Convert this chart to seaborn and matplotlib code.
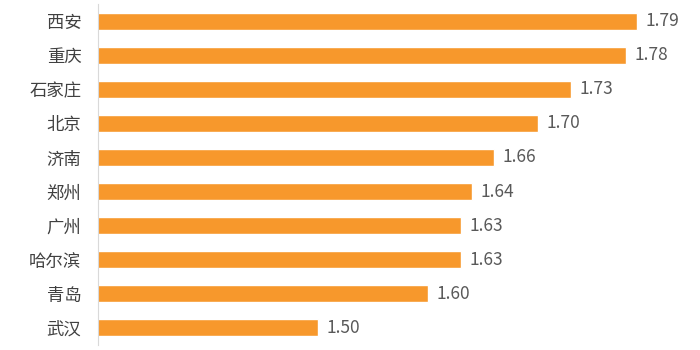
import matplotlib
matplotlib.use("Agg")
import matplotlib.pyplot as plt
import seaborn as sns
import pandas as pd

cities = ["西安", "重庆", "石家庄", "北京", "济南", "郑州", "广州", "哈尔滨", "青岛", "武汉"]
values = [1.79, 1.78, 1.73, 1.70, 1.66, 1.64, 1.63, 1.63, 1.60, 1.50]

sns.set_theme(style="white")
plt.rcParams['font.family'] = ['Noto Sans CJK SC', 'DejaVu Sans']

df = pd.DataFrame({"city": cities, "value": values})

fig = plt.figure(figsize=(7, 3.5), dpi=100)
ax = fig.add_axes([0.14, 0.0143, 0.83, 0.974])
sns.barplot(data=df, x="value", y="city", orient="h", color="#F7982C",
            saturation=1, width=0.5, ax=ax)

ax.set_xlim(1.30, 1.30 + 0.83 * 700 / 1100)
ax.set_ylim(9.5, -0.5)
for c in ax.containers:
    ax.bar_label(c, fmt="%.2f", padding=6, color="#595959", fontsize=12.5)

ax.set_xlabel("")
ax.set_ylabel("")
ax.set_xticks([])
ax.tick_params(axis="y", length=0, pad=12, labelsize=12.5, labelcolor="#404040")
for s in ["top", "right", "bottom"]:
    ax.spines[s].set_visible(False)
ax.spines["left"].set_color("#D9D9D9")
ax.spines["left"].set_linewidth(0.8)

fig.savefig("out.png", dpi=100)
